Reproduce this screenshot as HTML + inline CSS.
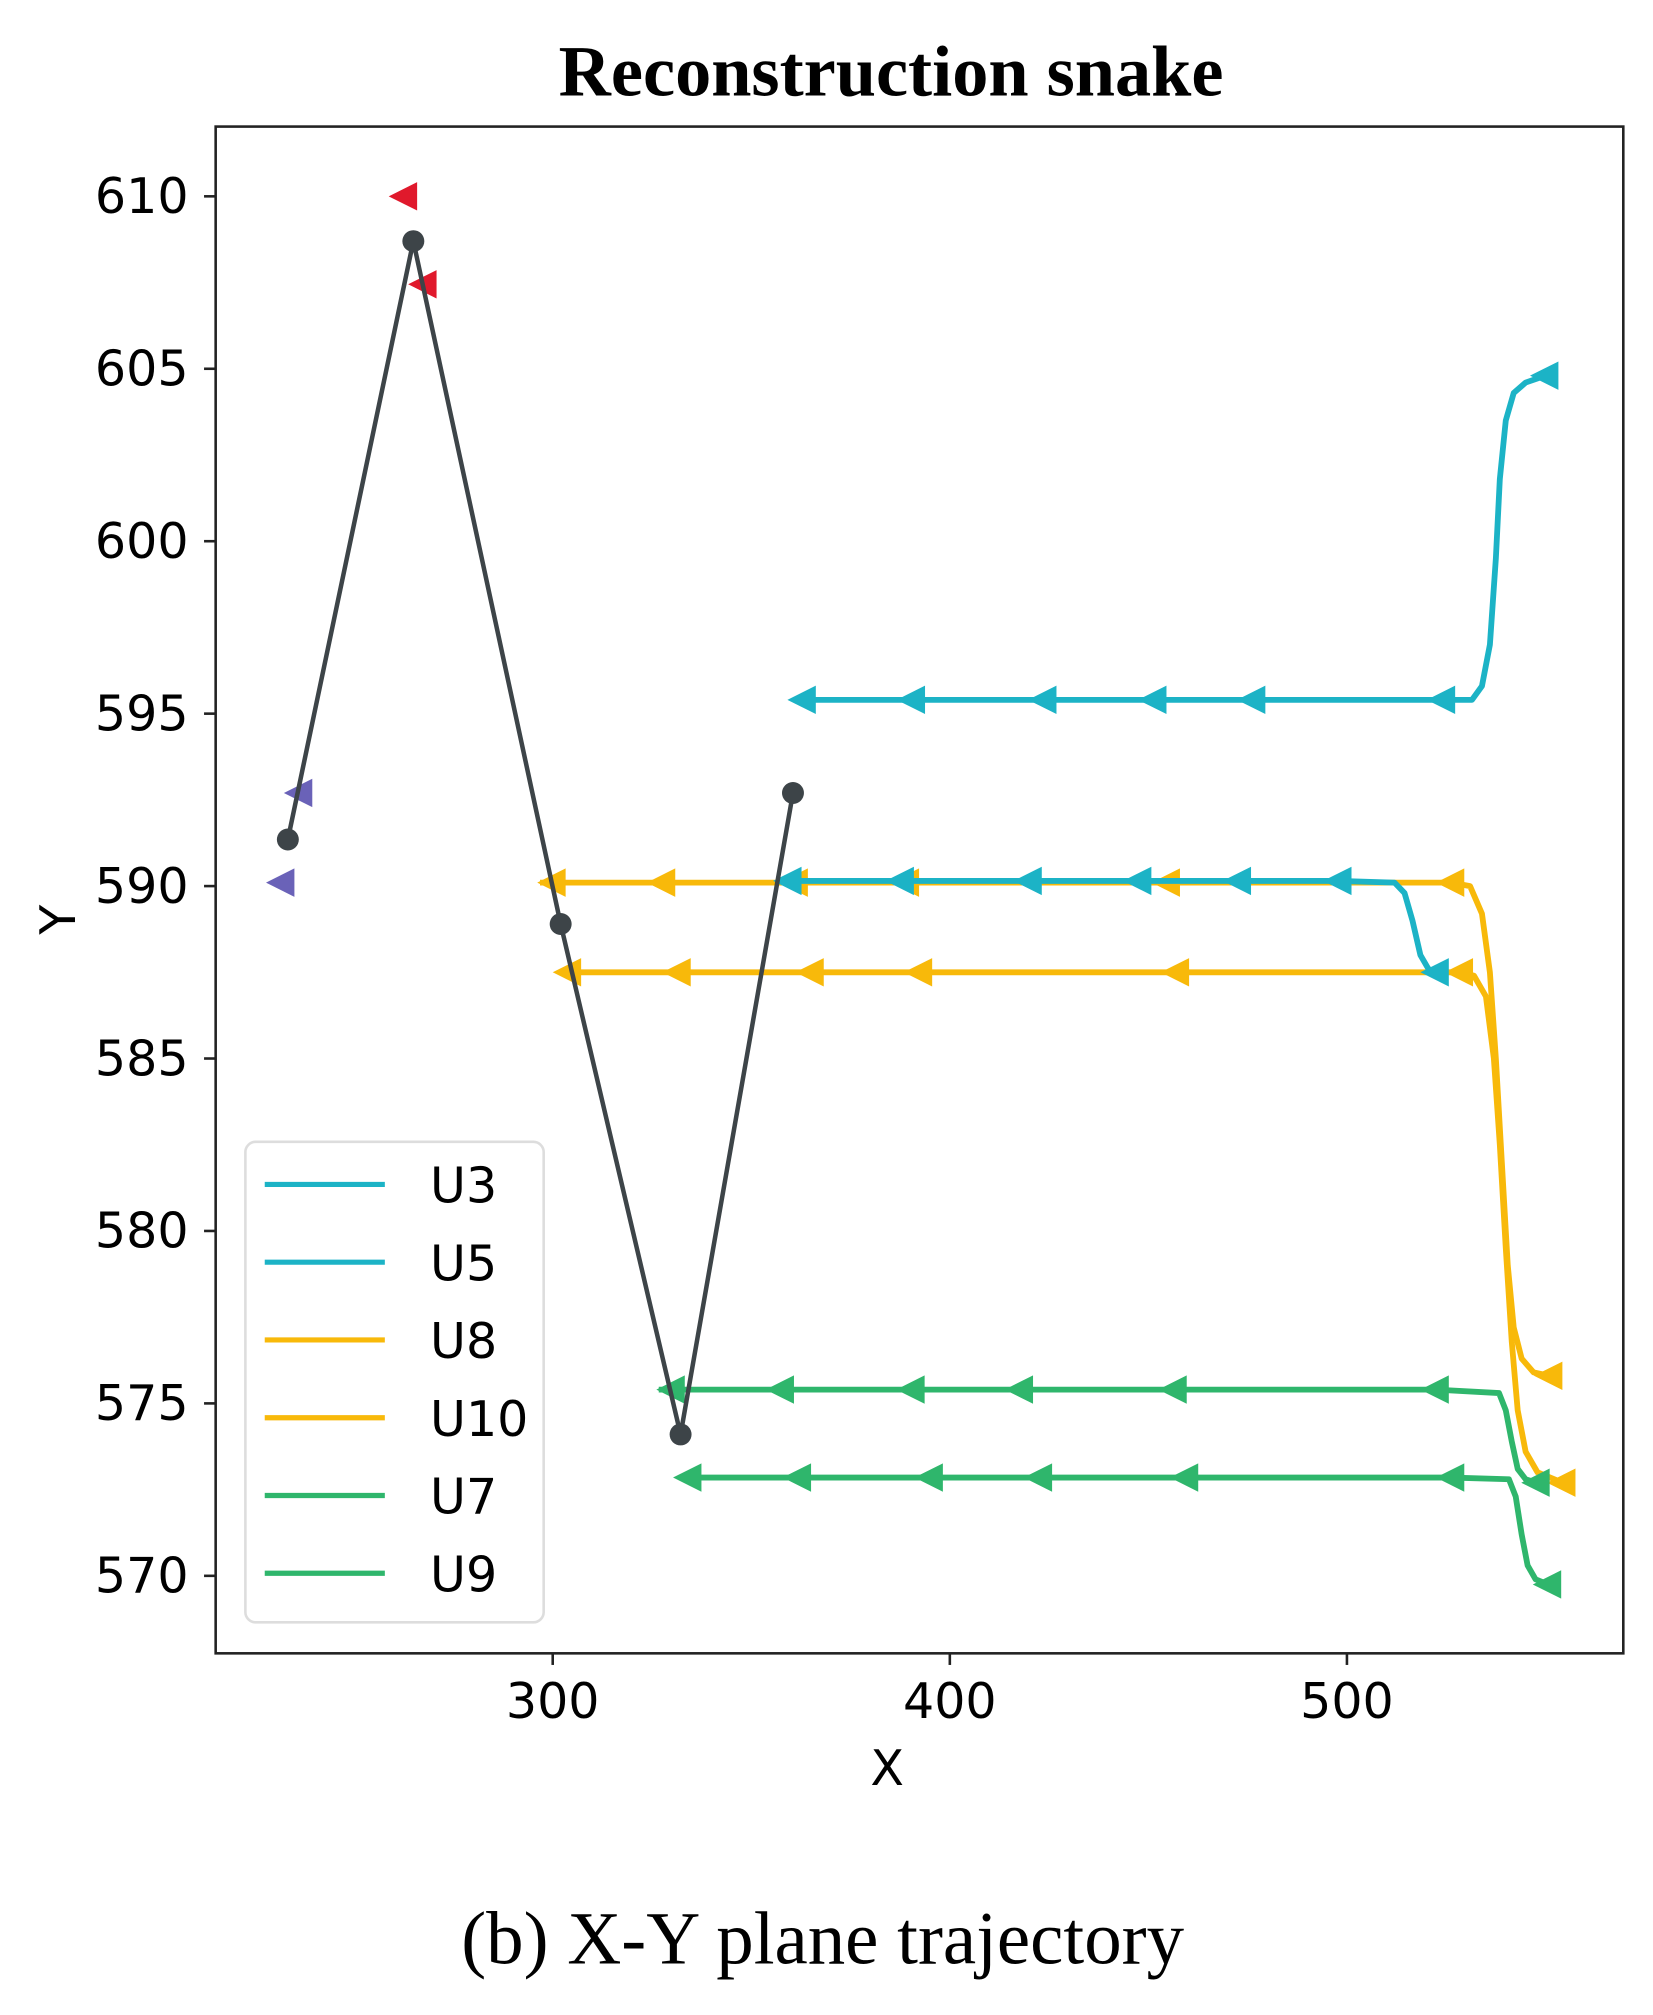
<!DOCTYPE html>
<html><head><meta charset="utf-8"><style>html,body{margin:0;padding:0;background:#fff}svg{display:block}</style></head>
<body>
<svg id="chart" width="1653" height="2015" viewBox="0 0 1280 1560" preserveAspectRatio="none" xmlns="http://www.w3.org/2000/svg">
<rect width="1280" height="1560" fill="#fff"/>
<text x="690" y="74" text-anchor="middle" font-family="Liberation Serif, serif" font-weight="bold" font-size="56">Reconstruction snake</text>
<text x="637" y="1520" text-anchor="middle" font-family="Liberation Serif, serif" font-size="58">(b) X-Y plane trajectory</text>
<rect x="167" y="98" width="1090" height="1182" fill="none" stroke="#222" stroke-width="2"/>
<text x="687" y="1382" text-anchor="middle" font-family="DejaVu Sans, sans-serif" font-size="38">X</text>
<text transform="translate(58,712) rotate(-90)" text-anchor="middle" font-family="DejaVu Sans, sans-serif" font-size="38">Y</text>
<g id="axes"></g><g id="series"></g>
<g id="legend">
<rect x="190" y="884" width="231" height="372" rx="8" fill="#fff" stroke="#ddd" stroke-width="2"/>
</g>
</svg>
<script>
const xTicks=[300,400,500];
const yTicks=[570,575,580,585,590,595,600,605,610];
const blackX=[233.3,264.9,302,332.2,360.5];
const blackY=[591.35,608.7,588.9,574.1,592.7];
const redX=[262.6,267.5], redY=[610,607.45];
const purpleX=[231.7,236.2], purpleY=[590.1,592.7];
const u3X=[363,390.5,423.6,451.3,476.2,524,531.5,534,536,537.5,538.5,540,542,545,550];
const u3Y=[595.4,595.4,595.4,595.4,595.4,595.4,595.4,595.8,597,599.5,601.8,603.5,604.3,604.6,604.8];
const u3M=[363,390.5,423.6,451.3,476.2,524,550];
const u5X=[359.4,387.7,419.9,447.5,472.6,497.9,512,514.5,516.5,518.5,520.5,522.4];
const u5Y=[590.15,590.15,590.15,590.15,590.15,590.15,590.1,589.8,589,588,587.6,587.5];
const u5M=[359.4,387.7,419.9,447.5,472.6,497.9,522.4];
const u8X=[296.8,300,327.6,361,389,454.7,526.3,531,534,536,537.5,539,540.5,542,544,547,551];
const u8Y=[590.1,590.1,590.1,590.1,590.1,590.1,590.1,590.0,589.2,587.5,585,582,579,577.2,576.3,575.9,575.8];
const u8M=[300,327.6,361,389,454.7,526.3,551];
const u10X=[303.9,331.5,365,392.3,457,528.5,532,535,537,538.5,540,541.5,543,545,548,554.3];
const u10Y=[587.5,587.5,587.5,587.5,587.5,587.5,587.4,586.8,585,582.5,579.5,576.8,574.8,573.6,573,572.7];
const u10M=[303.9,331.5,365,392.3,457,528.5,554.3];
const u7X=[326.7,330,357.5,390.4,417.7,456.4,522.4,538.3,540,541.5,543,545,547.8];
const u7Y=[575.4,575.4,575.4,575.4,575.4,575.4,575.4,575.3,574.8,573.9,573.1,572.8,572.7];
const u7M=[330,357.5,390.4,417.7,456.4,522.4,547.8];
const u9X=[334.2,361.8,395,422.5,459.3,526.3,540.8,542.5,544,545.5,547.5,550.7];
const u9Y=[572.85,572.85,572.85,572.85,572.85,572.85,572.8,572.3,571.2,570.3,569.9,569.75];
const u9M=[334.2,361.8,395,422.5,459.3,526.3,550.7];
const legendNames=['U3','U5','U8','U10','U7','U9'];
const NS='http://www.w3.org/2000/svg';
const sx=v=>428+(v-300)*3.075;
const sy=v=>152+(610-v)*26.7;
function mk(t,a,p){const e=document.createElementNS(NS,t);for(const k in a)e.setAttribute(k,a[k]);p.appendChild(e);return e;}
const axes=document.getElementById('axes'), ser=document.getElementById('series');
xTicks.forEach(t=>{const l=mk('line',{x1:sx(t),x2:sx(t),y1:1280,y2:1289,stroke:'#222','stroke-width':2},axes);


const tx=mk('text',{x:sx(t),y:1330,'text-anchor':'middle','font-family':'DejaVu Sans, sans-serif','font-size':38},axes);tx.textContent=t;

});
yTicks.forEach(t=>{const l=mk('line',{x1:158,x2:167,y1:sy(t),y2:sy(t),stroke:'#222','stroke-width':2},axes);


const tx=mk('text',{x:146,y:sy(t)+13,'text-anchor':'end','font-family':'DejaVu Sans, sans-serif','font-size':38},axes);tx.textContent=t;

});
function tri(x,y,c,name){const X=sx(x),Y=sy(y);const p=mk('polygon',{points:`${X-12},${Y} ${X+10},${Y-11} ${X+10},${Y+11}`,fill:c},ser);

}
function series(xs,ys,ms,c,name){const pl=mk('polyline',{points:xs.map((x,i)=>sx(x)+','+sy(ys[i])).join(' '),fill:'none',stroke:c,'stroke-width':4.5,'stroke-linejoin':'round'},ser);


ms.forEach(m=>{const i=xs.indexOf(m);tri(m,ys[i],c,name+'-marker');});}
const cyan='#1cb3c6',orange='#f8b90a',green='#2fb66c';
series(u8X,u8Y,u8M,orange,'u8');series(u10X,u10Y,u10M,orange,'u10');
series(u3X,u3Y,u3M,cyan,'u3');series(u5X,u5Y,u5M,cyan,'u5');
series(u7X,u7Y,u7M,green,'u7');series(u9X,u9Y,u9M,green,'u9');
redX.forEach((x,i)=>tri(x,redY[i],'#e0192c','red-marker'));
purpleX.forEach((x,i)=>tri(x,purpleY[i],'#6a62b8','purple-marker'));
const bl=mk('polyline',{points:blackX.map((x,i)=>sx(x)+','+sy(blackY[i])).join(' '),fill:'none',stroke:'#3d4448','stroke-width':3.5},ser);


blackX.forEach((x,i)=>{const c=mk('circle',{cx:sx(x),cy:sy(blackY[i]),r:8.5,fill:'#3d4448'},ser);

});
const lg=document.getElementById('legend');const lc=[cyan,cyan,orange,orange,green,green];
legendNames.forEach((n,i)=>{const y=917+i*60.2;const l=mk('line',{x1:205,x2:298,y1:y,y2:y,stroke:lc[i],'stroke-width':4},lg);


const t=mk('text',{x:333,y:y+14,'font-family':'DejaVu Sans, sans-serif','font-size':38},lg);t.textContent=n;

});
</script>
</body></html>
